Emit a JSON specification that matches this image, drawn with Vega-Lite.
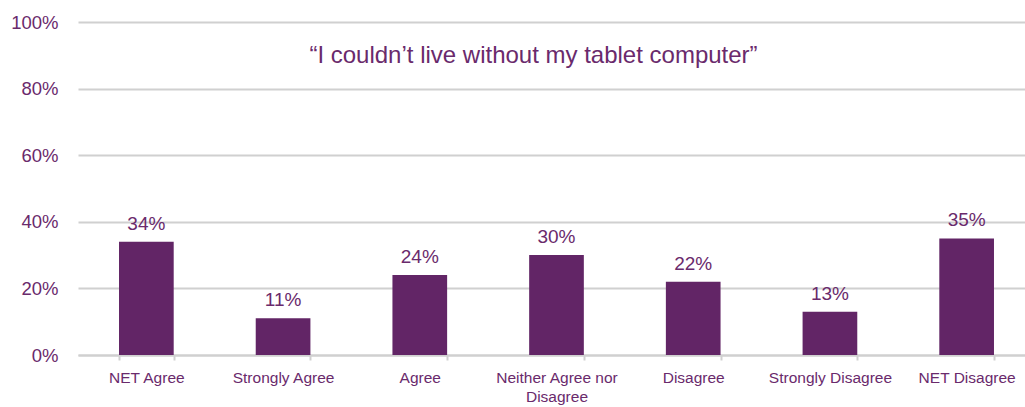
{
  "$schema": "https://vega.github.io/schema/vega-lite/v6.json",
  "width": 947,
  "height": 333,
  "autosize": {"type": "none"},
  "padding": {"left": 78, "top": 22, "right": 0, "bottom": 52},
  "background": "white",
  "title": {
    "text": "“I couldn’t live without my tablet computer”",
    "anchor": "middle",
    "frame": "group",
    "orient": "top",
    "offset": -74,
    "baseline": "alphabetic",
    "dx": -18,
    "font": "Liberation Sans",
    "fontSize": 24,
    "fontWeight": "normal",
    "color": "#6a2a6c"
  },
  "config": {
    "view": {"stroke": null},
    "font": "Liberation Sans"
  },
  "data": {
    "values": [
      {"category": "NET Agree", "value": 0.34},
      {"category": "Strongly Agree", "value": 0.11},
      {"category": "Agree", "value": 0.24},
      {"category": "Neither Agree nor Disagree", "value": 0.30},
      {"category": "Disagree", "value": 0.22},
      {"category": "Strongly Disagree", "value": 0.13},
      {"category": "NET Disagree", "value": 0.35}
    ]
  },
  "encoding": {
    "x": {
      "field": "category",
      "type": "nominal",
      "sort": null,
      "scale": {"range": [0, 957], "paddingInner": 0.6, "paddingOuter": 0.3},
      "axis": {
        "title": null,
        "labelAngle": 0,
        "labelFontSize": 15.5,
        "labelColor": "#6a2a6c",
        "labelFont": "Liberation Sans",
        "labelPadding": 10,
        "labelLineHeight": 19,
        "labelExpr": "datum.label == 'Neither Agree nor Disagree' ? ['Neither Agree nor', 'Disagree'] : datum.label",
        "domainColor": "#d0d0d0",
        "domainWidth": 2,
        "tickColor": "#d0d0d0",
        "tickWidth": 2,
        "tickSize": 5,
        "tickBand": "extent",
        "grid": false
      }
    },
    "y": {
      "field": "value",
      "type": "quantitative",
      "scale": {"domain": [0, 1]},
      "axis": {
        "title": null,
        "format": ".0%",
        "values": [0, 0.2, 0.4, 0.6, 0.8, 1],
        "labelFontSize": 18.5,
        "labelColor": "#6a2a6c",
        "labelFont": "Liberation Sans",
        "labelPadding": 20,
        "tickSize": 0,
        "domain": false,
        "gridColor": "#d0d0d0",
        "gridWidth": 2
      }
    }
  },
  "layer": [
    {"mark": {"type": "bar", "color": "#622566"}},
    {
      "mark": {"type": "text", "baseline": "alphabetic", "dy": -12, "fontSize": 19, "color": "#6a2a6c", "font": "Liberation Sans"},
      "encoding": {"text": {"field": "value", "type": "quantitative", "format": ".0%"}}
    }
  ]
}
